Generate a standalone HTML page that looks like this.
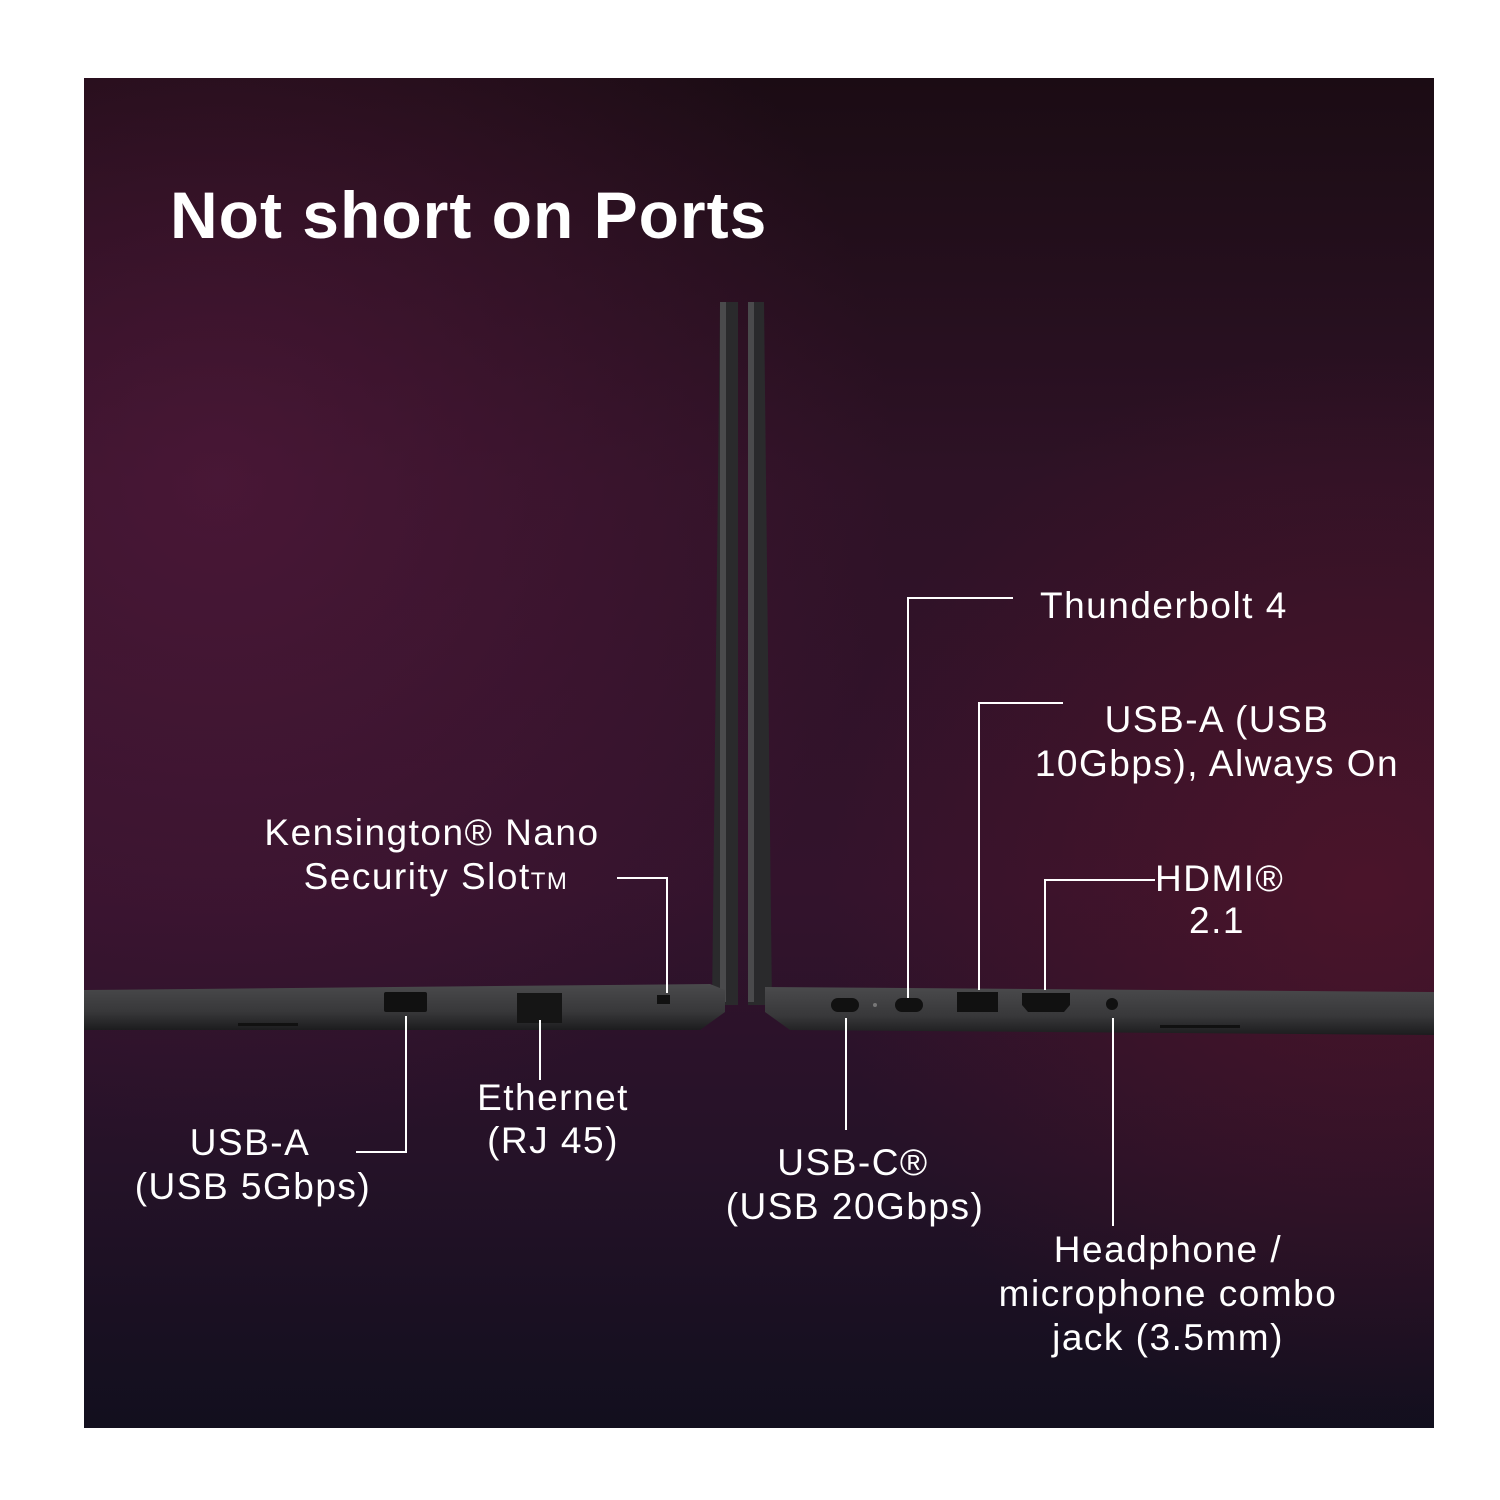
<!DOCTYPE html>
<html><head><meta charset="utf-8"><style>
html,body{margin:0;padding:0;background:#fff;width:1500px;height:1500px;overflow:hidden}
svg{display:block}
text{font-family:"Liberation Sans",sans-serif;fill:#fff}
</style></head><body>
<svg width="1500" height="1500" viewBox="0 0 1500 1500">
<defs>
<linearGradient id="bg" x1="0" y1="0" x2="0" y2="1">
<stop offset="0" stop-color="#1b0c14"/>
<stop offset="0.3" stop-color="#2e1226"/>
<stop offset="0.6" stop-color="#33132c"/>
<stop offset="0.8" stop-color="#251228"/>
<stop offset="1" stop-color="#120f1e"/>
</linearGradient>
<radialGradient id="g1" cx="0.1" cy="0.3" r="0.5">
<stop offset="0" stop-color="#5a1a40" stop-opacity="0.6"/>
<stop offset="1" stop-color="#5a1a40" stop-opacity="0"/>
</radialGradient>
<radialGradient id="g2" cx="0.95" cy="0.6" r="0.4">
<stop offset="0" stop-color="#5a1428" stop-opacity="0.6"/>
<stop offset="1" stop-color="#5a1428" stop-opacity="0"/>
</radialGradient>
<linearGradient id="base" x1="0" y1="0" x2="0" y2="1">
<stop offset="0" stop-color="#4a4a4c"/>
<stop offset="0.6" stop-color="#38383a"/>
<stop offset="1" stop-color="#1c1c1e"/>
</linearGradient>
</defs>
<rect x="84" y="78" width="1350" height="1350" fill="url(#bg)"/>
<rect x="84" y="78" width="1350" height="1350" fill="url(#g1)"/>
<rect x="84" y="78" width="1350" height="1350" fill="url(#g2)"/>
<polygon points="720,302 738,302 738,1005 712,1005" fill="#2a2a2c"/>
<rect x="720" y="302" width="6" height="700" fill="#4a4a4c"/>
<polygon points="748,302 764,302 772,1005 748,1005" fill="#2a2a2c"/>
<rect x="748" y="302" width="6" height="700" fill="#4a4a4c"/>
<polygon points="84,990 710,984 725,990 725,1012 700,1030 84,1030" fill="url(#base)"/>
<polygon points="765,987 1434,992 1434,1035 790,1030 765,1012" fill="url(#base)"/>
<rect x="238" y="1023" width="60" height="3" fill="#111"/>
<rect x="1160" y="1025" width="80" height="3" fill="#111"/>
<rect x="384" y="992" width="43" height="20" rx="2" fill="#111"/>
<rect x="517" y="993" width="45" height="30" fill="#151515"/>
<rect x="657" y="995" width="13" height="9" fill="#111"/>
<rect x="831" y="998" width="28" height="14" rx="7" fill="#111"/>
<circle cx="875" cy="1005" r="2" fill="#777"/>
<rect x="895" y="998" width="28" height="14" rx="7" fill="#111"/>
<rect x="957" y="992" width="41" height="20" fill="#111"/>
<polygon points="1022,993 1070,993 1070,1005 1064,1012 1028,1012 1022,1005" fill="#111"/>
<circle cx="1112" cy="1004" r="6" fill="#111"/>
<g stroke="#fff" stroke-width="2" fill="none">
<polyline points="617,878 667,878 667,993"/>
<polyline points="406,1016 406,1152 356,1152"/>
<line x1="540" y1="1020" x2="540" y2="1080"/>
<polyline points="1013,598 908,598 908,998"/>
<polyline points="1063,703 979,703 979,990"/>
<polyline points="1155,880 1045,880 1045,990"/>
<line x1="846" y1="1018" x2="846" y2="1130"/>
<line x1="1113" y1="1018" x2="1113" y2="1226"/>
</g>
<text x="170" y="238" font-size="66" font-weight="bold" letter-spacing="1">Not short on Ports</text>
<g font-size="37" letter-spacing="1.5" text-anchor="middle">
<text x="432" y="845">Kensington® Nano</text>
<text x="436" y="889">Security Slot<tspan font-size="24">TM</tspan></text>
<text x="250" y="1155">USB-A</text>
<text x="253" y="1199">(USB 5Gbps)</text>
<text x="553" y="1110">Ethernet</text>
<text x="553" y="1153">(RJ 45)</text>
<text x="853" y="1175">USB-C®</text>
<text x="855" y="1219">(USB 20Gbps)</text>
<text x="1168" y="1262">Headphone /</text>
<text x="1168" y="1306">microphone combo</text>
<text x="1168" y="1350">jack (3.5mm)</text>
<text x="1217" y="732">USB-A (USB</text>
<text x="1217" y="776">10Gbps), Always On</text>
<text x="1217" y="933">2.1</text>
</g>
<text x="1040" y="618" font-size="37" letter-spacing="1.5">Thunderbolt 4</text>
<text x="1155" y="891" font-size="37" letter-spacing="1.5">HDMI®</text>
</svg>
</body></html>
